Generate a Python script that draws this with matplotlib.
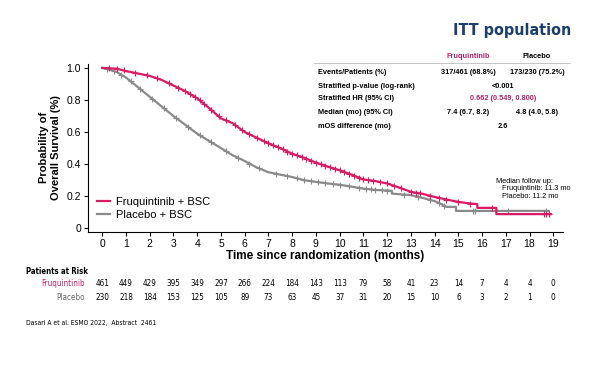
import numpy as np
import matplotlib.pyplot as plt
import matplotlib.transforms as mtransforms

plt.rcParams['font.family'] = ['Liberation Sans', 'DejaVu Sans']

PINK = '#d81b63'
GRAY = '#8a8a8a'
NAVY = '#1c3d6e'

# KM curves (months, survival probability)
fruq_t = [0, 0.6, 1, 1.5, 2, 2.5, 3, 3.5, 4, 4.5, 5, 5.5, 6, 6.5, 7, 7.5, 8, 8.5, 9, 9.5,
          10, 10.5, 11, 11.5, 12, 12.5, 13, 13.5, 14, 14.5, 15, 15.5, 15.8, 15.8, 16.6, 16.6, 18.9]
fruq_s = [1.0, 0.995, 0.98, 0.965, 0.95, 0.925, 0.89, 0.855, 0.81, 0.75, 0.685, 0.655, 0.60,
          0.565, 0.53, 0.50, 0.465, 0.44, 0.41, 0.385, 0.362, 0.335, 0.305, 0.295, 0.28, 0.255,
          0.228, 0.215, 0.196, 0.18, 0.165, 0.155, 0.151, 0.128, 0.128, 0.089, 0.089]
plac_t = [0, 0.3, 0.6, 1, 1.5, 2, 2.5, 3, 3.5, 4, 4.5, 5, 5.5, 6, 6.5, 7, 7.5, 8, 8.5, 9, 9.5,
          10, 10.5, 11, 11.5, 12.2, 12.2, 13, 13.5, 14, 14.3, 14.5, 14.9, 14.9, 18.8]
plac_s = [1.0, 0.99, 0.975, 0.94, 0.88, 0.82, 0.76, 0.70, 0.645, 0.59, 0.545, 0.50, 0.455,
          0.42, 0.38, 0.35, 0.335, 0.32, 0.30, 0.29, 0.28, 0.272, 0.26, 0.248, 0.24, 0.234,
          0.217, 0.207, 0.19, 0.17, 0.15, 0.134, 0.134, 0.109, 0.109]

fruq_cens = [0.3, 0.6, 0.9, 1.4, 1.9, 2.3, 2.8, 3.2, 3.5, 3.7, 3.9, 4.1, 4.3, 4.6, 4.9, 5.2,
             5.6, 5.9, 6.2, 6.5, 6.8, 7.0, 7.2, 7.4, 7.6, 7.8, 8.0, 8.2, 8.4, 8.6, 8.8, 9.0,
             9.2, 9.4, 9.6, 9.8, 10.0, 10.2, 10.4, 10.6, 10.8, 11.0, 11.2, 11.4, 11.7, 12.0,
             12.3, 12.6, 13.0, 13.2, 13.4, 13.8, 14.2, 14.5, 15.0, 15.5, 16.4, 18.6, 18.7, 18.8]
plac_cens = [0.2, 0.5, 0.8, 1.2, 1.6, 2.1, 2.6, 3.1, 3.6, 4.1, 4.6, 5.2, 5.7, 6.2, 6.6, 7.3,
             7.8, 8.2, 8.5, 8.8, 9.1, 9.4, 9.7, 10.0, 10.4, 10.8, 11.1, 11.3, 11.5, 11.8, 12.0,
             12.7, 13.3, 13.8, 14.2, 14.4, 15.6, 15.7, 17.1, 18.7]

months = list(range(20))
risk_fruq = [461, 449, 429, 395, 349, 297, 266, 224, 184, 143, 113, 79, 58, 41, 23, 14, 7, 4, 4, 0]
risk_plac = [230, 218, 184, 153, 125, 105, 89, 73, 63, 45, 37, 31, 20, 15, 10, 6, 3, 2, 1, 0]


def on_curve(times, surv, pts):
    # place censor marks on the traced curve (last value at repeated times)
    t = np.asarray(times)
    s = np.asarray(surv)
    return [s[np.searchsorted(t, p, side='right') - 1] if np.any(t == p)
            else np.interp(p, t, s) for p in pts]


fig = plt.figure(figsize=(6, 3.65), dpi=100)
ax = fig.add_axes([0.1467, 0.365, 0.938 - 0.1467, 0.825 - 0.365])

ax.plot(plac_t, plac_s, color=GRAY, lw=1.6, label='Placebo + BSC')
ax.plot(plac_cens, on_curve(plac_t, plac_s, plac_cens), '+', color=GRAY, ms=5, mew=0.8)
ax.plot(fruq_t, fruq_s, color=PINK, lw=1.6, label='Fruquintinib + BSC')
ax.plot(fruq_cens, on_curve(fruq_t, fruq_s, fruq_cens), '+', color=PINK, ms=5, mew=0.8)

ax.set_xlim(-0.6, 19.4)
ax.set_ylim(-0.021, 1.025)
ax.set_xticks(months)
ax.set_yticks([0, 0.2, 0.4, 0.6, 0.8, 1.0])
ax.set_yticklabels(['0', '0.2', '0.4', '0.6', '0.8', '1.0'])
ax.tick_params(labelsize=7.5, length=3, width=0.8, pad=2)
for s in ['top', 'right']:
    ax.spines[s].set_visible(False)
for s in ['left', 'bottom']:
    ax.spines[s].set_linewidth(0.8)
ax.set_xlabel('Time since randomization (months)', fontsize=8.5, fontweight='bold', labelpad=1)
ax.set_ylabel('Probability of\nOverall Survival (%)', fontsize=8, fontweight='bold', labelpad=4)

h, l = ax.get_legend_handles_labels()
ax.legend(h[::-1], l[::-1], loc='lower left', bbox_to_anchor=(0.0, 0.02), frameon=False,
          fontsize=8, handlelength=1.2, handletextpad=0.5, labelspacing=0.2, borderpad=0.3)


def ft(x, y, s, **kw):
    fig.text(x / 600, 1 - y / 365, s, **kw)


cond = dict(family='DejaVu Sans', fontstretch='condensed')

ft(571, 30, 'ITT population', ha='right', va='center', fontsize=11.5, fontweight='bold',
   color=NAVY, **cond)

tb = dict(fontsize=5.3, fontweight='bold', va='center')
ft(468, 56, 'Fruquintinib', ha='center', color='#b0246a', **tb)
ft(537, 56, 'Placebo', ha='center', color='black', **tb)
fig.add_artist(plt.Line2D([314 / 600, 570 / 600], [1 - 63 / 365, 1 - 63 / 365],
                          color='#bbbbbb', lw=0.6))
rows = ['Events/Patients (%)', 'Stratified p-value (log-rank)', 'Stratified HR (95% CI)',
        'Median (mo) (95% CI)', 'mOS difference (mo)']
row_y = [72, 86, 99, 112, 126]
for r, y in zip(rows, row_y):
    ft(318, y, r, ha='left', **tb)
ft(468, 72, '317/461 (68.8%)', ha='center', **tb)
ft(537, 72, '173/230 (75.2%)', ha='center', **tb)
ft(503, 86, '<0.001', ha='center', **tb)
ft(503, 99, '0.662 (0.549, 0.800)', ha='center', color='#b0246a', **tb)
ft(468, 112, '7.4 (6.7, 8.2)', ha='center', **tb)
ft(537, 112, '4.8 (4.0, 5.8)', ha='center', **tb)
ft(503, 126, '2.6', ha='center', **tb)

ft(496, 181, 'Median follow up:', ha='left', va='center', fontsize=5.3)
ft(502, 189, 'Fruquintinib: 11.3 mo', ha='left', va='center', fontsize=5.3)
ft(502, 197, 'Placebo: 11.2 mo', ha='left', va='center', fontsize=5.3)

ft(26, 271, 'Patients at Risk', ha='left', va='center', fontsize=5.6, fontweight='bold', **cond)
ft(85, 283, 'Fruquintinib', ha='right', va='center', fontsize=5.9, color='#c0246c', **cond)
ft(85, 297, 'Placebo', ha='right', va='center', fontsize=5.9, color='#666666', **cond)
trans = mtransforms.blended_transform_factory(ax.transData, fig.transFigure)
for m, a, b in zip(months, risk_fruq, risk_plac):
    ax.text(m, 1 - 283 / 365, str(a), transform=trans, ha='center', va='center', fontsize=5.9,
            **cond)
    ax.text(m, 1 - 297 / 365, str(b), transform=trans, ha='center', va='center', fontsize=5.9,
            **cond)

ft(26, 323, 'Dasari A et al. ESMO 2022,  Abstract  2461', ha='left', va='center', fontsize=4.9,
   **cond)

fig.savefig('out.png', dpi=100)
